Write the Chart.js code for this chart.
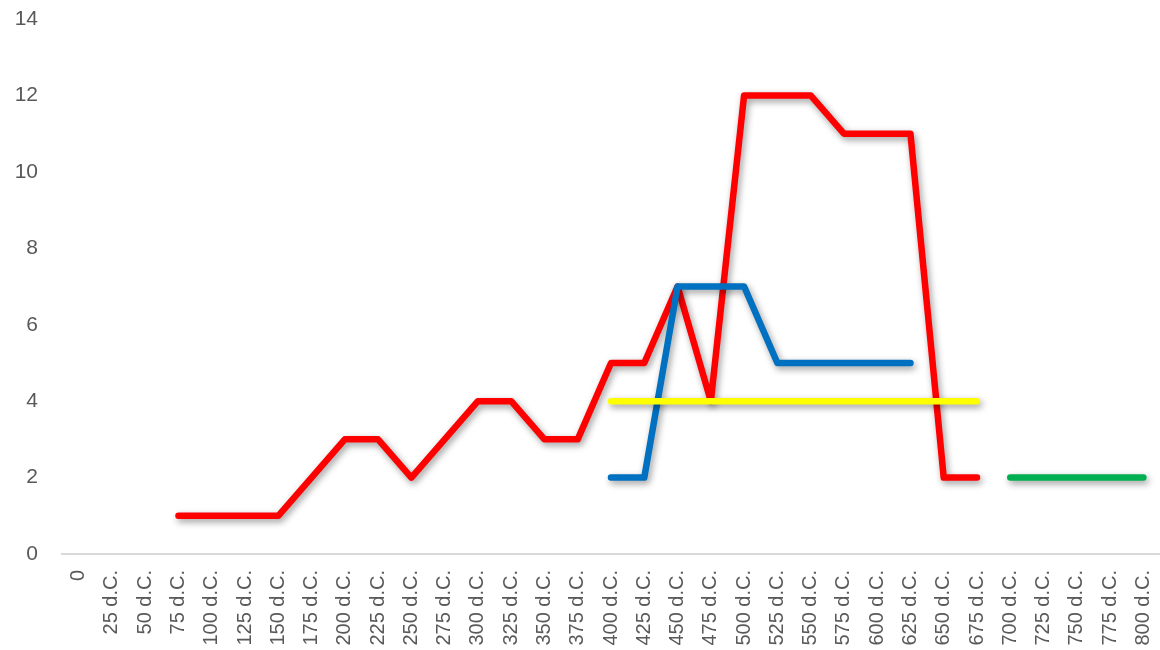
<!DOCTYPE html>
<html>
<head>
<meta charset="utf-8">
<script src="https://cdn.jsdelivr.net/npm/chart.js@4.4.1/dist/chart.umd.min.js"></script>
<style>
html,body{margin:0;padding:0;background:#fff;}
#wrap{width:1160px;height:650px;position:relative;}
</style>
</head>
<body>
<div id="wrap"><canvas id="c" width="1160" height="650"></canvas></div>
<script>
const categories = ["0","25 d.C.","50 d.C.","75 d.C.","100 d.C.","125 d.C.","150 d.C.","175 d.C.","200 d.C.","225 d.C.","250 d.C.","275 d.C.","300 d.C.","325 d.C.","350 d.C.","375 d.C.","400 d.C.","425 d.C.","450 d.C.","475 d.C.","500 d.C.","525 d.C.","550 d.C.","575 d.C.","600 d.C.","625 d.C.","650 d.C.","675 d.C.","700 d.C.","725 d.C.","750 d.C.","775 d.C.","800 d.C."];
const redValues = [null,null,null,1,1,1,1,2,3,3,2,3,4,4,3,3,5,5,7,4,12,12,12,11,11,11,2,2,null,null,null,null,null];
const blueValues = [null,null,null,null,null,null,null,null,null,null,null,null,null,null,null,null,2,2,7,7,7,5,5,5,5,5,null,null,null,null,null,null,null];
const yellowValues = [null,null,null,null,null,null,null,null,null,null,null,null,null,null,null,null,4,4,4,4,4,4,4,4,4,4,4,4,null,null,null,null,null];
const greenValues = [null,null,null,null,null,null,null,null,null,null,null,null,null,null,null,null,null,null,null,null,null,null,null,null,null,null,null,null,2,2,2,2,2];
const yTicks = [0,2,4,6,8,10,12,14];

const shadowPlugin = {
  id: 'shadow',
  beforeDatasetDraw(chart) {
    const ctx = chart.ctx;
    ctx.save();
    ctx.shadowColor = 'rgba(0,0,0,0.4)';
    ctx.shadowBlur = 7;
    ctx.shadowOffsetX = 2;
    ctx.shadowOffsetY = 3;
  },
  afterDatasetDraw(chart) {
    chart.ctx.restore();
  }
};

const mk = (label, data, color, order) => ({
  label, data, borderColor: color, backgroundColor: color,
  borderWidth: 6.5, pointRadius: 0, pointHoverRadius: 0,
  borderCapStyle: 'round', borderJoinStyle: 'round',
  spanGaps: false, tension: 0, fill: false, order
});

new Chart(document.getElementById('c'), {
  type: 'line',
  data: {
    labels: categories,
    datasets: [
      mk('Rosso', redValues, '#FF0000', 2),
      mk('Blu', blueValues, '#0070C0', 1),
      mk('Giallo', yellowValues, '#FFFF00', 0),
      mk('Verde', greenValues, '#00B050', 3)
    ]
  },
  plugins: [shadowPlugin],
  options: {
    responsive: false,
    animation: false,
    events: [],
    layout: { padding: { top: 19, right: 0, left: 0, bottom: 0 } },
    plugins: { legend: { display: false }, tooltip: { enabled: false } },
    scales: {
      x: {
        offset: true,
        grid: { display: false, drawTicks: false },
        border: { display: true, color: '#d9d9d9', width: 2 },
        ticks: {
          autoSkip: false, maxRotation: 90, minRotation: 90,
          color: '#595959', padding: 16,
          font: { family: 'Liberation Sans', size: 20 }
        },
        afterFit(s) { s.height = 96; s.paddingLeft = 0; s.paddingRight = 0; }
      },
      y: {
        min: 0, max: 14,
        afterBuildTicks(s) { s.ticks = yTicks.map(v => ({ value: v })); },
        grid: { display: false, drawTicks: false },
        border: { display: false },
        ticks: {
          color: '#595959', padding: 24,
          font: { family: 'Liberation Sans', size: 21 }
        },
        afterFit(s) { s.width = 62; s.paddingTop = 0; s.paddingBottom = 0; }
      }
    }
  }
});
</script>
</body>
</html>
